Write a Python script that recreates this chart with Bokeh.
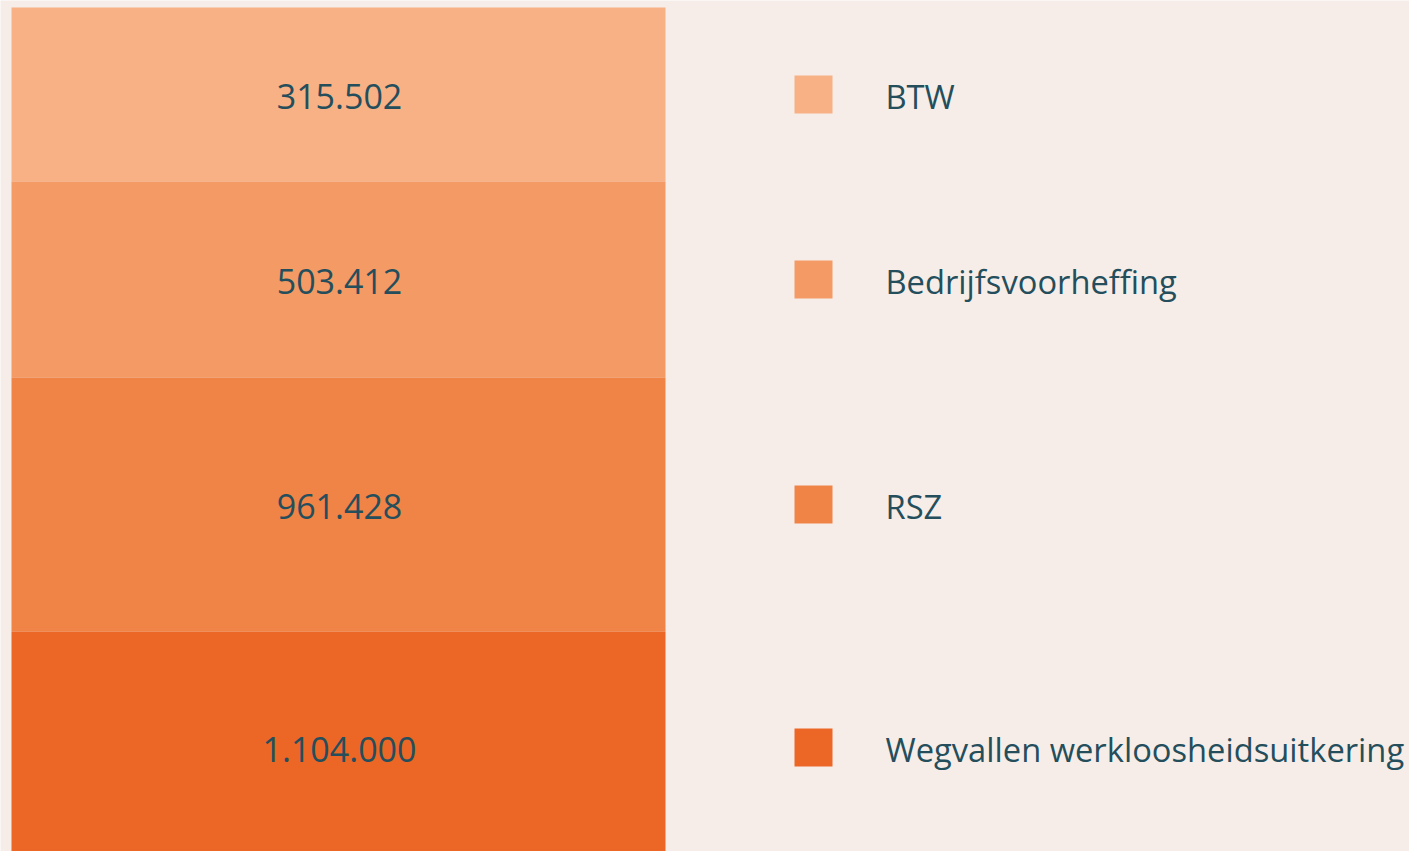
from bokeh.plotting import figure
from bokeh.models import Range1d, ColumnDataSource
from bokeh.core.properties import value
from bokeh.embed import file_html
from bokeh.resources import INLINE

# data
categories = ["BTW", "Bedrijfsvoorheffing", "RSZ", "Wegvallen werkloosheidsuitkering"]
values = [315502, 503412, 961428, 1104000]
labels = ["315.502", "503.412", "961.428", "1.104.000"]
colors = ["#F7B185", "#F39A65", "#F08346", "#EC6726"]

# layout (screen-like units, y downward): band edges of the stacked column
band_top = [7, 181, 377, 631]
band_bottom = [181, 377, 631, 870]

BG = "#F6EDE8"
TXT = "#244E5C"
W, H = 1409, 851

mid = [(a + b) / 2 for a, b in zip(band_top, band_bottom)]
mid[3] = 747
src = ColumnDataSource(dict(cat=categories, val=values, lab=labels, col=colors,
                            top=band_top, bottom=band_bottom, mid=mid))

p = figure(width=W, height=H, output_backend="svg", toolbar_location=None,
           x_range=Range1d(0, W), y_range=Range1d(H, 0),
           min_border=0, min_border_left=0, min_border_right=0,
           min_border_top=0, min_border_bottom=0)
p.axis.visible = False
p.grid.visible = False
p.outline_line_color = None
p.background_fill_color = BG
p.border_fill_color = BG

p.quad(left=11, right=665, top="top", bottom="bottom", fill_color="col",
       line_color=None, source=src)

p.text(x=339, y="mid", text="lab", text_align="center", text_baseline="middle",
       text_font=value("Open Sans"), text_font_size="34px", text_color=TXT, source=src,
       y_offset=2)

p.rect(x=813, y="mid", width=38, height=38, width_units="screen", height_units="screen",
       fill_color="col", line_color=None, source=src)
p.text(x=885, y="mid", text="cat", text_align="left", text_baseline="middle",
       text_font=value("Open Sans"), text_font_size="32.7px", text_color=TXT, source=src,
       y_offset=2)

html = file_html(p, INLINE)
html = html.replace("<body>", "<body style=\"background:%s\">" % BG, 1)
open("out.html", "w").write(html)
